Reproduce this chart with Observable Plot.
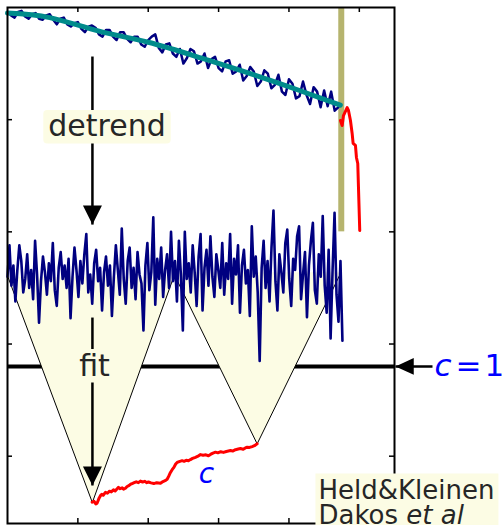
<!DOCTYPE html>
<html><head><meta charset="utf-8">
<script src="https://cdn.jsdelivr.net/npm/d3@7"></script>
<script src="https://cdn.jsdelivr.net/npm/@observablehq/plot@0.6"></script>
<style>html,body{margin:0;padding:0;background:#fff;} #chart{width:503px;height:525px;overflow:hidden}</style>
</head><body><div id="chart"></div>
<script>
// ---- axis ticks (no labels in the original) ----
const xTicks = [0, 100, 200, 300, 400];
const yTicks = [0, 1, 2, 3];

// ---- raw time series (top), sampled every 5 time units from -100 ----
const rawStart = -100, rawStep = 5;
const rawSeries = [3.96,3.93,3.91,3.96,3.97,3.92,3.90,3.94,3.95,3.90,
3.89,3.93,3.94,3.89,3.85,3.90,3.91,3.85,3.83,3.86,
3.87,3.81,3.78,3.83,3.84,3.82,3.76,3.74,3.80,3.80,
3.74,3.71,3.78,3.78,3.72,3.69,3.74,3.74,3.67,3.65,
3.71,3.74,3.76,3.64,3.60,3.67,3.68,3.59,3.56,3.63,
3.50,3.55,3.63,3.61,3.50,3.52,3.59,3.46,3.54,3.56,
3.46,3.43,3.52,3.53,3.41,3.43,3.49,3.35,3.39,3.47,
3.43,3.30,3.34,3.44,3.41,3.28,3.31,3.40,3.25,3.22,
3.36,3.32,3.19,3.21,3.34,3.22,3.14,3.29,3.25,3.11,
3.26,3.12,3.25,3.08,3.11];

// ---- smooth trend ----
const trendX = [-100, -40, 30, 100, 175, 245, 315, 373];
const trendY = [3.95, 3.91, 3.79, 3.69, 3.55, 3.41, 3.26, 3.13];

// ---- tipping (red tail after the band) ----
const tailX = [373.2, 375.6, 377.5, 382.7, 384.6, 387.4, 389.8, 391.2, 394.5, 395.9, 397.8, 398.8, 400.6];
const tailY = [2.993, 2.948, 3.037, 3.108, 3.082, 2.993, 2.877, 2.788, 2.770, 2.663, 2.609, 2.395, 2.012];

// ---- shaded band ----
const bandX = [370.8, 379.3];
const bandY = [2, 4];

// ---- detrended series, sampled every 2.8 time units from -100 ----
const detStart = -100, detStep = 2.8;
const detrended = [
1.60,1.88,1.52,1.70,1.38,1.66,1.88,1.74,1.46,1.58,
1.80,1.50,1.66,1.40,1.92,1.62,1.19,1.56,1.78,1.64,
1.44,1.72,1.56,1.90,1.48,1.34,1.68,1.82,1.58,1.70,
1.50,1.76,1.23,1.60,1.86,1.66,1.42,1.74,1.54,1.80,
1.98,1.46,1.62,1.36,1.72,1.84,1.56,1.68,1.30,1.64,
1.78,1.52,1.70,1.25,1.60,1.88,1.66,1.44,2.03,1.58,
1.36,1.74,1.86,1.50,1.68,1.40,1.82,1.62,1.54,1.12,
1.70,1.90,1.48,1.64,2.13,1.35,1.76,1.58,1.86,1.42,
1.66,1.80,1.50,2.00,1.56,1.74,1.38,1.92,1.62,1.12,
2.00,1.58,1.72,1.46,1.88,1.64,1.34,1.78,1.98,1.30,
1.68,1.84,1.52,1.96,1.60,1.42,1.80,1.66,1.50,1.90,
1.44,1.72,1.58,1.98,1.36,1.76,1.62,1.88,1.28,1.70,
1.84,1.54,1.66,1.25,2.05,1.60,1.78,1.46,0.85,1.68,
1.92,1.50,1.74,1.38,1.86,2.19,1.56,1.30,1.80,1.64,
1.46,1.90,2.02,1.58,1.34,1.76,1.66,1.96,2.05,1.40,
1.62,1.82,1.24,1.70,1.92,2.08,1.48,1.36,1.80,1.60,
2.14,1.52,1.28,1.84,1.05,1.66,2.17,1.44,1.20,1.74,
1.03];

// ---- estimated indicator c ----
const cX = [20.3,23,25.5,27.4,29,30.5,32.1,34,36,39.2,42,45,47.5,50.6,53,55.5,57.7,60,63,65,67.6,70,72.5,75,77.2,80,83,86,88.9,92,95,98,100.3,104,108,112,117.4,121,124,126.9,129,131.6,134,136.5,139,141.1,144,148.2,151,154,157.2,160,163,167.1,170,174.2,178,182,185.6,189,192,195.6,199,203,207,211,216.9,220,224,228,231.1,235,238,240.6,244,247.7,251,254.8];
const cY = [-0.410,-0.402,-0.425,-0.418,-0.392,-0.370,-0.352,-0.340,-0.348,-0.322,-0.330,-0.312,-0.318,-0.300,-0.310,-0.292,-0.278,-0.290,-0.282,-0.294,-0.286,-0.270,-0.262,-0.250,-0.244,-0.236,-0.228,-0.236,-0.222,-0.230,-0.224,-0.236,-0.230,-0.238,-0.244,-0.236,-0.242,-0.226,-0.218,-0.206,-0.180,-0.145,-0.120,-0.100,-0.070,-0.056,-0.048,-0.040,-0.046,-0.036,-0.040,-0.030,-0.020,-0.010,-0.002,0.014,0.008,0.012,0.004,0.018,0.028,0.036,0.030,0.040,0.034,0.042,0.050,0.046,0.058,0.064,0.068,0.062,0.074,0.080,0.078,0.086,0.094,0.110];

// ---- c = 1 reference level ----
const cLevel = 0.80;

// ---- fitting windows (cones): top-left, apex, top-right ----
const cone1X = [-99.5, 20.6, 136.3], cone1Y = [1.60, -0.413, 1.60];
const cone2X = [135.4, 254.8, 374.2], cone2Y = [1.64, 0.110, 1.64];

// ---- arrows: start and tip ----
const arrowX1 = [20.7, 20.7, 504.0];
const arrowY1 = [3.563, 1.236, 0.80];
const arrowX2 = [20.7, 20.7, 451.4];
const arrowY2 = [2.065, -0.261, 0.80];
const arrowDir = ["down", "down", "left"];

// ---- labels ----
const labelText = ["detrend", "fit"];
const labelX = [41.4, 23.6];
const labelY = [2.936, 0.805];
const creditLines = ["Held&Kleinen", "Dakos et al"];
const creditItalic = "et al";
const creditX = 341.9, creditY = -0.418;

// ---- build tables ----
const raw = rawSeries.map((v, i) => ({t: rawStart + i * rawStep, v}));
const trend = trendX.map((t, i) => ({t, v: trendY[i]}));
const tail = tailX.map((t, i) => ({t, v: tailY[i]}));
const det = detrended.map((v, i) => ({t: detStart + i * detStep, v}));
const cSeries = cX.map((t, i) => ({t, v: cY[i]}));
const coneFill = [
  ...[0,1,2].map(k => ({id: 1, t: cone1X[k], v: cone1Y[k]})),
  ...[0,1,2].map(k => ({id: 2, t: cone2X[k], v: cone2Y[k]}))
];
const arrows = arrowX1.map((x1, i) => ({x1, y1: arrowY1[i], x2: arrowX2[i], y2: arrowY2[i], dir: arrowDir[i]}));
const labels = labelText.map((text, i) => ({text, x: labelX[i], y: labelY[i]}));

const downHead = {draw(ctx, size) { const r = Math.sqrt(size / Math.PI), h = 2.5 * r, w = 1.25 * r;
  ctx.moveTo(0, 0); ctx.lineTo(-w, -h); ctx.lineTo(w, -h); ctx.closePath(); }};
const leftHead = {draw(ctx, size) { const r = Math.sqrt(size / Math.PI), h = 2.4 * r, w = 1.1 * r;
  ctx.moveTo(0, 0); ctx.lineTo(h, -w); ctx.lineTo(h, w); ctx.closePath(); }};

const boxFill = "#fcfce4";
const ink = "#262626";

const chart = Plot.plot({
  width: 503, height: 525,
  marginLeft: 7, marginRight: 109, marginTop: 7, marginBottom: 2,
  x: {domain: [-100, 450], axis: null},
  y: {domain: [-0.6, 4], axis: null},
  style: {fontFamily: "DejaVu Sans", background: "white", overflow: "visible"},
  marks: [
    Plot.ruleY([cLevel], {stroke: "black", strokeWidth: 4}),
    Plot.line(coneFill, {x: "t", y: "v", z: "id", fill: boxFill, stroke: "none"}),
    Plot.line(coneFill, {x: "t", y: "v", z: "id", stroke: "black", strokeWidth: 1}),
    Plot.rect([0], {x1: () => bandX[0], x2: () => bandX[1], y1: () => bandY[0], y2: () => bandY[1], fill: "#b6b46e"}),
    Plot.line(raw, {x: "t", y: "v", stroke: "#000080", strokeWidth: 2.5, strokeLinejoin: "round"}),
    Plot.line(trend, {x: "t", y: "v", stroke: "#008b8b", strokeWidth: 5, curve: "natural"}),
    Plot.line(tail, {x: "t", y: "v", stroke: "red", strokeWidth: 3, strokeLinejoin: "round"}),
    Plot.line(det, {x: "t", y: "v", stroke: "#000080", strokeWidth: 2.6, strokeLinejoin: "round"}),
    Plot.line(cSeries, {x: "t", y: "v", stroke: "red", strokeWidth: 3, strokeLinejoin: "round"}),
    Plot.link(arrows, {x1: "x1", y1: "y1", x2: "x2", y2: "y2", stroke: "black", strokeWidth: 2.5}),
    Plot.dot(arrows.filter(d => d.dir === "down"), {x: "x2", y: "y2", r: 7.6, symbol: downHead, fill: "black", stroke: "none"}),
    Plot.dot(arrows.filter(d => d.dir === "left"), {x: "x2", y: "y2", r: 7.6, symbol: leftHead, fill: "black", stroke: "none"}),
    Plot.text(labels, {x: "x", y: "y", text: "text", fontSize: 30, fill: ink}),
    Plot.text(["c"], {x: () => 182.8, y: () => -0.163, text: d => d, fontSize: 28, fontStyle: "italic", fill: "#0000ff"}),
    Plot.text(["c"], {x: () => 506.8, y: () => cLevel, text: d => d, fontSize: 31, fontStyle: "italic", fill: "#0000ff", textAnchor: "start"}),
    Plot.text(["=\u200a1"], {x: () => 536.6, y: () => cLevel, text: d => d, fontSize: 31, fill: "#0000ff", textAnchor: "start"}),
    Plot.frame({stroke: "black", strokeWidth: 2}),
    Plot.ruleX(xTicks, {x: d => d, insetTop: 511, stroke: "black", strokeWidth: 1.5}),
    Plot.ruleX(xTicks, {x: d => d, insetBottom: 511, stroke: "black", strokeWidth: 1.5}),
    Plot.ruleY(yTicks, {y: d => d, insetRight: 382, stroke: "black", strokeWidth: 1.5}),
    Plot.ruleY(yTicks, {y: d => d, insetLeft: 382, stroke: "black", strokeWidth: 1.5}),
    Plot.text([creditLines.join("\n")], {x: () => creditX, y: () => creditY, text: d => d, fontSize: 26, lineHeight: 0.98, fill: ink, textAnchor: "start"})
  ]
});
document.getElementById("chart").append(chart);

// ---- label background boxes ----
const NS = "http://www.w3.org/2000/svg";
const sr = chart.getBoundingClientRect();
const texts = Array.from(chart.querySelectorAll("text"));
texts.filter(t => labelText.includes(t.textContent)).forEach(t => {
  const b = t.getBoundingClientRect();
  const r = document.createElementNS(NS, "rect");
  r.setAttribute("x", b.left - sr.left - 5);
  r.setAttribute("y", b.top - sr.top + 1.5);
  r.setAttribute("width", b.width + 10);
  r.setAttribute("height", b.height - 1.5);
  r.setAttribute("rx", 4);
  r.setAttribute("fill", boxFill);
  const g = t.parentNode;
  g.parentNode.insertBefore(r, g);
});
// credit: italic "et al" and a box behind
const credit = texts.find(t => t.textContent.startsWith(creditLines[0]));
if (credit) {
  const spans = Array.from(credit.querySelectorAll("tspan"));
  const second = spans.find(s => s.textContent === creditLines[1]);
  if (second) {
    second.textContent = creditLines[1].slice(0, creditLines[1].length - creditItalic.length);
    const it = document.createElementNS(NS, "tspan");
    it.setAttribute("font-style", "italic");
    it.textContent = creditItalic;
    second.appendChild(it);
  }
  const b = credit.getBoundingClientRect();
  const r = document.createElementNS(NS, "rect");
  r.setAttribute("x", b.left - sr.left - 3);
  r.setAttribute("y", b.top - sr.top - 1);
  r.setAttribute("width", b.width + 7);
  r.setAttribute("height", 525 - (b.top - sr.top) + 1);
  r.setAttribute("fill", boxFill);
  const g = credit.parentNode;
  g.parentNode.insertBefore(r, g);
}
</script>
</body></html>
